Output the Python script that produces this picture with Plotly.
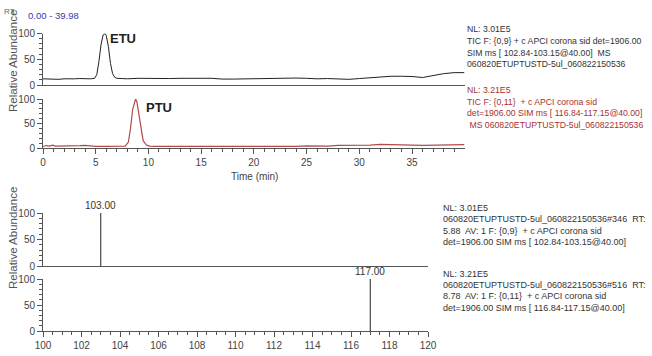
import plotly.graph_objects as go

# ---------------- data ----------------
etu_time = [0.0, 0.5, 1.0, 1.5, 2.0, 2.5, 3.0, 3.5, 4.0, 4.5, 4.9, 5.1, 5.3, 5.5, 5.7, 5.88,
            6.0, 6.2, 6.4, 6.6, 6.8, 7.0, 7.5, 8.0, 9.0, 10.0, 11.0, 12.0, 13.0, 14.0, 15.0,
            16.0, 17.0, 18.0, 19.0, 20.0, 21.0, 22.0, 23.0, 24.0, 25.0, 26.0, 27.0, 28.0,
            29.0, 30.0, 31.0, 32.0, 33.0, 34.0, 35.0, 36.0, 37.0, 38.0, 39.0, 39.98]
etu_abund = [12, 11.5, 12, 11, 12, 11.5, 12, 12.5, 12, 12, 13, 20, 45, 78, 97, 100,
             96, 75, 42, 22, 15, 13, 12.5, 12, 13, 12.5, 13, 12.5, 13, 13.5, 13,
             13, 11.5, 11.5, 12, 12, 12, 13.5, 13.5, 13.5, 13, 12, 12.5, 12,
             11, 12.5, 14, 16, 17, 17, 16.5, 14.5, 18, 22, 24, 24]

ptu_time = [0.0, 0.3, 0.6, 0.9, 1.2, 1.5, 2.0, 2.5, 3.0, 3.5, 4.0, 4.5, 5.0, 6.0, 7.0, 7.8,
            8.1, 8.3, 8.5, 8.7, 8.78, 8.9, 9.1, 9.3, 9.5, 9.8, 10.1, 10.5, 11.0, 12.0, 13.0,
            14.0, 15.0, 16.0, 17.0, 18.0, 19.0, 20.0, 21.0, 22.0, 23.0, 24.0, 25.0, 26.0,
            27.0, 28.0, 29.0, 30.0, 31.0, 32.0, 33.0, 34.0, 35.0, 36.0, 37.0, 38.0, 39.0, 39.98]
ptu_abund = [3, 5, 4, 6, 4, 4, 3.5, 3.5, 4, 5, 5.5, 4, 3.5, 3.5, 3.5, 4,
             12, 40, 78, 97, 100, 95, 70, 38, 15, 6, 4, 3.5, 3.5, 3.5, 3.5,
             3, 3, 3.5, 3, 3, 3, 3.5, 2.5, 3, 3.5, 3.5, 4.5, 4, 4, 5.5,
             5.5, 6, 6, 7.5, 6.5, 6, 6, 5.5, 6, 6.5, 7, 7]

spec1_mz = [103.00]
spec1_int = [100]
spec2_mz = [117.00]
spec2_int = [100]

chrom_ticks = [0, 5, 10, 15, 20, 25, 30, 35]
spec_ticks = [100, 102, 104, 106, 108, 110, 112, 114, 116, 118, 120]
abund_ticks = [0, 50, 100]

rt_range_text = "0.00 - 39.98"
etu_info = ["NL: 3.01E5",
            "TIC F: {0,9} + c APCI corona sid det=1906.00",
            "SIM ms [ 102.84-103.15@40.00]  MS",
            "060820ETUPTUSTD-5ul_060822150536"]
ptu_info = ["NL: 3.21E5",
            "TIC F: {0,11}  + c APCI corona sid",
            "det=1906.00 SIM ms [ 116.84-117.15@40.00]",
            " MS 060820ETUPTUSTD-5ul_060822150536"]
spec1_info = ["NL: 3.01E5",
              "060820ETUPTUSTD-5ul_060822150536#346  RT:",
              "5.88  AV: 1 F: {0,9}  + c APCI corona sid",
              "det=1906.00 SIM ms [ 102.84-103.15@40.00]"]
spec2_info = ["NL: 3.21E5",
              "060820ETUPTUSTD-5ul_060822150536#516  RT:",
              "8.78  AV: 1 F: {0,11}  + c APCI corona sid",
              "det=1906.00 SIM ms [ 116.84-117.15@40.00]"]

# ---------------- helpers ----------------
W, H = 652, 356
def px(x): return x / W
def py(y): return 1 - y / H

FONT = "Liberation Sans Narrow, Arial Narrow, Liberation Sans, Arial"
AX = "#555555"
BLACK_LINE = "#222222"
RED_LINE = "#b24a4a"
RED_TEXT = "#a83232"

def sticks(mz, inten):
    xs, ys = [], []
    for m, i in zip(mz, inten):
        xs += [m, m, None]
        ys += [0, i, None]
    return xs, ys

fig = go.Figure()
fig.add_trace(go.Scatter(x=etu_time, y=etu_abund, mode="lines",
                         line=dict(color=BLACK_LINE, width=1), xaxis="x", yaxis="y"))
fig.add_trace(go.Scatter(x=ptu_time, y=ptu_abund, mode="lines",
                         line=dict(color=RED_LINE, width=1.2), xaxis="x2", yaxis="y2"))
sx, sy = sticks(spec1_mz, spec1_int)
fig.add_trace(go.Scatter(x=sx, y=sy, mode="lines", line=dict(color=BLACK_LINE, width=1),
                         xaxis="x3", yaxis="y3"))
sx, sy = sticks(spec2_mz, spec2_int)
fig.add_trace(go.Scatter(x=sx, y=sy, mode="lines", line=dict(color=BLACK_LINE, width=1),
                         xaxis="x4", yaxis="y4"))

def yax(top, bottom, anchor):
    return dict(domain=[py(bottom), py(top)], range=[0, 100], anchor=anchor,
                tickvals=abund_ticks, ticks="outside", ticklen=5, tickwidth=1, tickcolor=AX,
                showline=True, linecolor=AX, linewidth=1, showgrid=False, zeroline=False,
                automargin=False,
                tickfont=dict(family=FONT, size=10, color="#444"),
                minor=dict(dtick=10, ticks="outside", ticklen=3, tickcolor=AX, showgrid=False))

def xax(x0, x1, rng, anchor, tickvals=None, minor_dtick=None):
    d = dict(domain=[px(x0), px(x1)], range=rng, anchor=anchor, automargin=False,
             showline=True, linecolor=AX, linewidth=1, showgrid=False, zeroline=False)
    if tickvals is None:
        d.update(showticklabels=False, ticks="")
    else:
        d.update(tickvals=tickvals, ticks="outside", ticklen=5, tickwidth=1, tickcolor=AX,
                 tickfont=dict(family=FONT, size=10, color="#444"),
                 minor=dict(dtick=minor_dtick, ticks="outside", ticklen=3,
                            tickcolor=AX, showgrid=False))
    return d

fig.update_layout(
    width=W, height=H, margin=dict(l=0, r=0, t=0, b=0),
    paper_bgcolor="white", plot_bgcolor="white", showlegend=False,
    xaxis=xax(43, 464.5, [0, 39.98], "y"),
    xaxis2=xax(43, 464.5, [0, 39.98], "y2", chrom_ticks, 1),
    xaxis3=xax(43, 428, [100, 120], "y3"),
    xaxis4=xax(43, 428, [100, 120], "y4", spec_ticks, 0.5),
    yaxis=yax(33.5, 85, "x"),
    yaxis2=yax(99, 148, "x2"),
    yaxis3=yax(213, 266, "x3"),
    yaxis4=yax(279, 331, "x4"),
)

anns = []
def text(x, y, s, color="#333", size=10, xanchor="left", angle=0):
    anns.append(dict(x=px(x), y=py(y), xref="paper", yref="paper", text=s,
                     showarrow=False, xanchor=xanchor, yanchor="middle", textangle=angle,
                     borderpad=0, font=dict(family=FONT, size=size, color=color)))

text(3, 12, "RT:", color="#666", size=8)
text(27, 15, rt_range_text, color="#3a3aa8", size=9.5)
text(13, 61, "Relative Abundance", color="#555", size=11.5, xanchor="center", angle=-90)
text(13, 238, "Relative Abundance", color="#555", size=11.5, xanchor="center", angle=-90)
text(254, 176, "Time (min)", color="#444", size=10, xanchor="center")
text(109, 38, "<b>ETU</b>", color="#222", size=13)
text(145, 107, "<b>PTU</b>", color="#222", size=13)

for i, s in enumerate(etu_info):
    text(466, 29 + i * 11.8, s, color="#333", size=8.7)
for i, s in enumerate(ptu_info):
    text(466, 90 + i * 11.6, s, color=RED_TEXT, size=8.7)
for i, s in enumerate(spec1_info):
    text(442, 208 + i * 11.3, s, color="#333", size=9)
for i, s in enumerate(spec2_info):
    text(442, 274 + i * 11.2, s, color="#333", size=9)

# peak labels on spectra from data
for mz, it, xr, yr in [(spec1_mz[0], spec1_int[0], "x3", "y3"),
                       (spec2_mz[0], spec2_int[0], "x4", "y4")]:
    anns.append(dict(x=mz, y=it, xref=xr, yref=yr, text=f"{mz:.2f}", showarrow=False,
                     xanchor="center", yanchor="bottom", yshift=0,
                     font=dict(family=FONT, size=10, color="#333")))

fig.update_layout(annotations=anns)
fig.write_html("out.html")
